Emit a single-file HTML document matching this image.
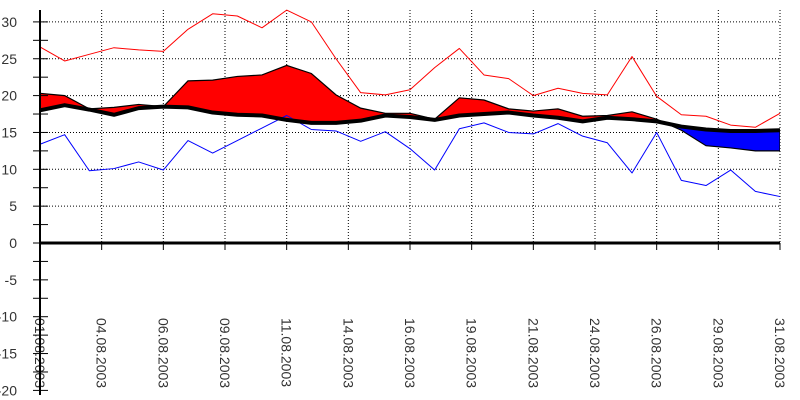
<!DOCTYPE html>
<html><head><meta charset="utf-8"><style>
html,body{margin:0;padding:0;background:#fff;}
svg{display:block;font-family:"Liberation Sans",sans-serif;}
</style></head><body>
<svg id="chart" width="800" height="400" viewBox="0 0 800 400">
<g id="grid"></g>
<g id="series"></g>
<g id="axes"></g>
</svg>
<script>
const days = [1,2,3,4,5,6,7,8,9,10,11,12,13,14,15,16,17,18,19,20,21,22,23,24,25,26,27,28,29,30,31];
const maxTemp = [26.6,24.7,25.6,26.5,26.2,26.0,29.0,31.1,30.8,29.2,31.6,30.0,25.0,20.4,20.1,20.8,23.8,26.4,22.8,22.3,20.0,21.0,20.3,20.1,25.3,19.9,17.4,17.2,16.0,15.7,17.6];
const minTemp = [13.4,14.7,9.8,10.1,11.0,9.9,13.9,12.2,13.9,15.6,17.3,15.4,15.2,13.8,15.1,12.8,9.9,15.5,16.3,15.0,14.8,16.2,14.5,13.6,9.5,15.0,8.5,7.8,9.9,7.0,6.3];
const meanTemp = [20.3,20.0,18.2,18.4,18.8,18.5,22.0,22.1,22.6,22.8,24.1,23.0,20.1,18.3,17.6,17.6,16.8,19.7,19.4,18.2,17.9,18.2,17.2,17.3,17.8,16.8,15.3,13.2,12.9,12.5,12.5];
const normalTemp = [18.0,18.7,18.1,17.4,18.3,18.5,18.4,17.7,17.4,17.3,16.7,16.3,16.3,16.6,17.3,17.1,16.7,17.3,17.5,17.7,17.3,17.0,16.5,17.0,16.8,16.5,15.8,15.4,15.2,15.2,15.3];
const yTicks = [30,25,20,15,10,5,0,-5,-10,-15,-20];
const xLabels = ["01.08.2003","04.08.2003","06.08.2003","09.08.2003","11.08.2003","14.08.2003","16.08.2003","19.08.2003","21.08.2003","24.08.2003","26.08.2003","29.08.2003","31.08.2003"];

const NS="http://www.w3.org/2000/svg";
const x0=40,x1=780,yZero=243,pxPerUnit=7.37;
function xScale(d){return x0+(d-1)*(x1-x0)/30;}
function yScale(v){return yZero-v*pxPerUnit;}
function mk(tag,attrs,parent){const e=document.createElementNS(NS,tag);for(const k in attrs)e.setAttribute(k,attrs[k]);parent.appendChild(e);return e;}
const grid=document.getElementById('grid'),series=document.getElementById('series'),axes=document.getElementById('axes'),svg=document.getElementById('chart');

// horizontal gridlines
yTicks.forEach(v=>{
  if(v>0){
    const l=mk('line',{x1:x0,x2:x1,y1:yScale(v),y2:yScale(v),stroke:'#000','stroke-width':1,'stroke-dasharray':'1,2'},grid);
    
    
  }
  const t=mk('text',{x:17,y:yScale(v)+5,'text-anchor':'end','font-size':14,fill:'#333'},axes);
  t.textContent=v;
  
  
});
// y ticks (major + minor)
for(let v=-20;v<=30;v+=2.5){
  const tk=mk('line',{x1:33,x2:48,y1:yScale(v),y2:yScale(v),stroke:'#000','stroke-width':1},axes);
  
  
}
// vertical gridlines + labels
xLabels.forEach((lab,i)=>{
  const d=1+i*2.5, x=xScale(d);
  if(i>0){
    const g=mk('line',{x1:x,x2:x,y1:10,y2:yZero,stroke:'#000','stroke-width':1,'stroke-dasharray':'1,2'},grid);
    
    
  }
  const tk=mk('line',{x1:x,x2:x,y1:yZero,y2:yZero+7,stroke:'#000','stroke-width':1},axes);
  
  
  const t=mk('text',{x:0,y:0,'font-size':14,fill:'#333',transform:`translate(${x-5},318) rotate(90)`},axes);
  t.textContent=lab;
  
  
});

// deviation fill, clipped above/below normal line
const normPts=days.map((d,i)=>`${xScale(d)},${yScale(normalTemp[i])}`);
const defs=mk('defs',{},svg);
const cpA=mk('clipPath',{id:'above'},defs);
mk('polygon',{points:`${x0},0 ${normPts.join(' ')} ${x1},0`},cpA);
const cpB=mk('clipPath',{id:'below'},defs);
mk('polygon',{points:`${x0},400 ${normPts.join(' ')} ${x1},400`},cpB);
const meanPts=days.map((d,i)=>`${xScale(d)},${yScale(meanTemp[i])}`);
const areaPts=meanPts.concat(normPts.slice().reverse()).join(' ');
const warm=mk('polygon',{points:areaPts,fill:'#ff0000',stroke:'#000','stroke-width':1.2,'clip-path':'url(#above)'},series);


const cold=mk('polygon',{points:areaPts,fill:'#0000ff',stroke:'#000','stroke-width':1.2,'clip-path':'url(#below)'},series);



function line(arr,color,w,name){
  const p=mk('polyline',{points:days.map((d,i)=>`${xScale(d)},${yScale(arr[i])}`).join(' '),fill:'none',stroke:color,'stroke-width':w,'stroke-linejoin':'round'},series);
  
  
}
line(maxTemp,'#ff0000',1,'max-temp-line');
line(minTemp,'#0000ff',1,'min-temp-line');
line(normalTemp,'#000',4,'normal-temp-line');

// axes
const ya=mk('line',{x1:x0,x2:x0,y1:10,y2:395,stroke:'#000','stroke-width':2},axes);


const xa=mk('line',{x1:x0,x2:x1,y1:yZero,y2:yZero,stroke:'#000','stroke-width':3},axes);


</script>
</body></html>
